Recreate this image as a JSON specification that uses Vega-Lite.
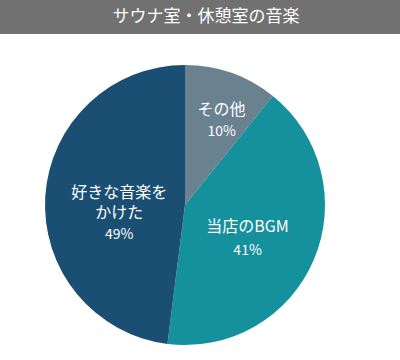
{
  "$schema": "https://vega.github.io/schema/vega-lite/v6.json",
  "padding": 0,
  "spacing": 16,
  "background": "white",
  "config": {"view": {"stroke": null}, "font": "Noto Sans CJK JP"},
  "vconcat": [
    {
      "width": 400,
      "height": 34,
      "view": {"fill": "#717171", "stroke": null},
      "data": {"values": [{"title": "サウナ室・休憩室の音楽"}]},
      "mark": {"type": "text", "color": "white", "fontSize": 17, "font": "Noto Sans CJK JP", "dx": 6, "baseline": "middle", "align": "center"},
      "encoding": {
        "text": {"field": "title"},
        "x": {"datum": 0.5, "type": "quantitative", "scale": {"domain": [0, 1]}, "axis": null},
        "y": {"datum": 0.5, "type": "quantitative", "scale": {"domain": [0, 1]}, "axis": null}
      }
    },
    {
      "width": 370,
      "height": 310,
      "data": {"values": [
        {"idx": 1, "category": "その他", "name": "その他", "pct": "10%", "value": 10.8},
        {"idx": 2, "category": "当店のBGM", "name": "当店のBGM", "pct": "41%", "value": 41.2},
        {"idx": 3, "category": "好きな音楽をかけた", "name": "好きな音楽を\nかけた", "pct": "49%", "value": 48.0}
      ]},
      "encoding": {
        "theta": {"field": "value", "type": "quantitative", "stack": true},
        "order": {"field": "idx", "type": "quantitative"}
      },
      "layer": [
        {
          "mark": {"type": "arc", "outerRadius": 140},
          "encoding": {
            "color": {"field": "category", "type": "nominal", "legend": null,
              "scale": {"domain": ["その他", "当店のBGM", "好きな音楽をかけた"], "range": ["#6a818f", "#15909d", "#1a4f73"]}}
          }
        },
        {
          "mark": {"type": "text", "radius": 110, "dy": 9, "color": "white", "fontSize": 16, "align": "center", "baseline": "middle"},
          "encoding": {"text": {"condition": {"test": "datum.idx === 1", "field": "name"}, "value": ""}}
        },
        {
          "mark": {"type": "text", "radius": 110, "dy": 31, "color": "white", "fontSize": 14, "align": "center", "baseline": "middle"},
          "encoding": {"text": {"condition": {"test": "datum.idx === 1", "field": "pct"}, "value": ""}}
        },
        {
          "mark": {"type": "text", "radius": 68, "dy": -5, "color": "white", "fontSize": 16, "align": "center", "baseline": "middle"},
          "encoding": {"text": {"condition": {"test": "datum.idx === 2", "field": "name"}, "value": ""}}
        },
        {
          "mark": {"type": "text", "radius": 68, "dy": 19, "color": "white", "fontSize": 14, "align": "center", "baseline": "middle"},
          "encoding": {"text": {"condition": {"test": "datum.idx === 2", "field": "pct"}, "value": ""}}
        },
        {
          "mark": {"type": "text", "radius": 66, "dy": -8, "color": "white", "fontSize": 16, "align": "center", "baseline": "middle", "lineBreak": "\n", "lineHeight": 20},
          "encoding": {"text": {"condition": {"test": "datum.idx === 3", "field": "name"}, "value": ""}}
        },
        {
          "mark": {"type": "text", "radius": 66, "dy": 34, "color": "white", "fontSize": 14, "align": "center", "baseline": "middle"},
          "encoding": {"text": {"condition": {"test": "datum.idx === 3", "field": "pct"}, "value": ""}}
        }
      ]
    }
  ]
}
